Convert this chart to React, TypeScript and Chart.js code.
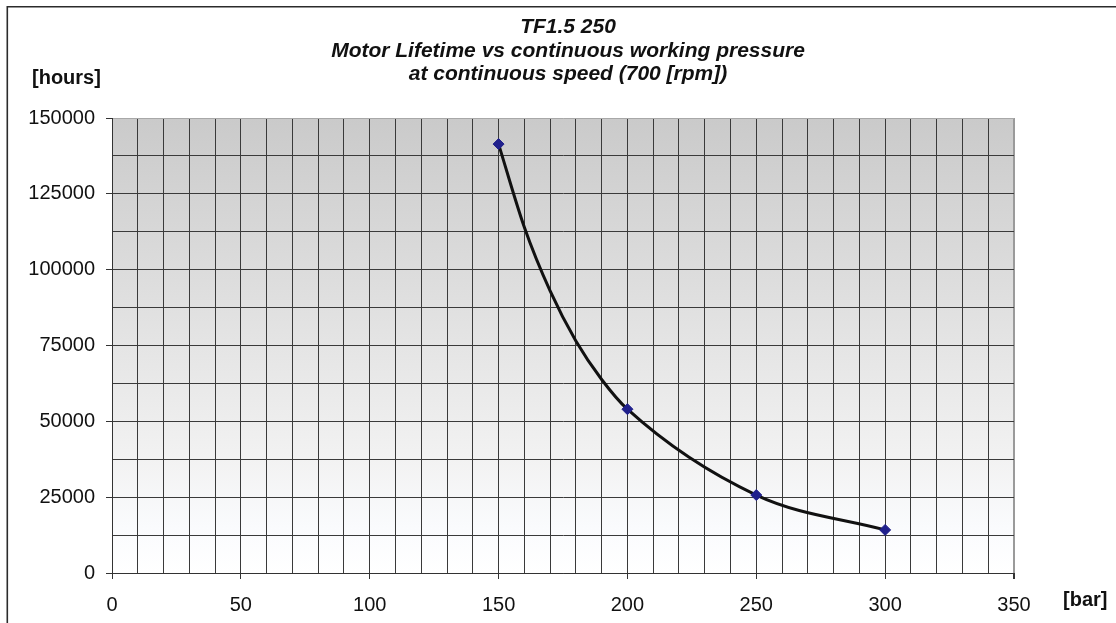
import React, { useEffect, useRef } from "react";
import { Chart, registerables } from "chart.js";

Chart.register(...registerables);

// Marked data points (pressure [bar] -> lifetime [hours])
const pressureMarks = [150, 200, 250, 300];
const lifetimeMarks = [141400, 54000, 25700, 14200];

// Curve points (crossings of the 10-bar grid lines)
const curvePressure = [150, 160, 170, 180, 190, 200, 250, 300];
const curveLifetime = [141400, 114000, 93000, 76500, 63800, 54000, 25700, 14200];

const titleLines = [
  "TF1.5 250",
  "Motor Lifetime vs continuous working pressure",
  "at continuous speed (700 [rpm])",
];
const yAxisTitle = "[hours]";
const xAxisTitle = "[bar]";

const FONT = "'Liberation Sans', Arial, sans-serif";

export default function App() {
  const canvasRef = useRef<HTMLCanvasElement | null>(null);

  useEffect(() => {
    const canvas = canvasRef.current;
    if (!canvas) return;

    const bgPlugin = {
      id: "bgGradient",
      beforeDraw(chart: any) {
        const { ctx, chartArea } = chart;
        ctx.save();
        ctx.fillStyle = "#ffffff";
        ctx.fillRect(0, 0, chart.width, chart.height);
        const g = ctx.createLinearGradient(0, chartArea.top, 0, chartArea.bottom);
        g.addColorStop(0, "#cacaca");
        g.addColorStop(0.45, "#e2e2e2");
        g.addColorStop(0.75, "#f2f2f2");
        g.addColorStop(0.9, "#fafbfd");
        g.addColorStop(1, "#ffffff");
        ctx.fillStyle = g;
        ctx.fillRect(
          chartArea.left,
          chartArea.top,
          chartArea.right - chartArea.left,
          chartArea.bottom - chartArea.top
        );
        ctx.restore();
      },
      afterDraw(chart: any) {
        const { ctx } = chart;
        ctx.save();
        // outer frame (top and left edges)
        ctx.strokeStyle = "#2b2b2b";
        ctx.lineWidth = 1.6;
        ctx.beginPath();
        ctx.moveTo(1116, 6.8);
        ctx.lineTo(7.3, 6.8);
        ctx.lineTo(7.3, 623);
        ctx.stroke();

        ctx.fillStyle = "#111111";
        ctx.textAlign = "center";
        ctx.textBaseline = "alphabetic";
        ctx.font = `italic bold 21px ${FONT}`;
        const baselines = [33, 57, 80];
        titleLines.forEach((t, i) => ctx.fillText(t, 568, baselines[i]));

        ctx.font = `bold 20px ${FONT}`;
        ctx.textAlign = "left";
        ctx.fillText(yAxisTitle, 32, 84);
        ctx.fillText(xAxisTitle, 1063, 606);
        ctx.restore();
      },
    };

    const chart = new Chart(canvas, {
      type: "scatter",
      data: {
        datasets: [
          {
            label: "points",
            data: pressureMarks.map((x, i) => ({ x, y: lifetimeMarks[i] })),
            pointStyle: "rectRot",
            pointRadius: 5.5,
            pointHoverRadius: 5.5,
            backgroundColor: "#20208c",
            borderColor: "#20208c",
            borderWidth: 1,
            showLine: false,
            order: 0,
          },
          {
            label: "curve",
            data: curvePressure.map((x, i) => ({ x, y: curveLifetime[i] })),
            showLine: true,
            borderColor: "#111111",
            borderWidth: 3,
            pointRadius: 0,
            pointHoverRadius: 0,
            cubicInterpolationMode: "monotone",
            fill: false,
            order: 1,
          },
        ],
      },
      options: {
        responsive: false,
        animation: false,
        events: [],
        layout: { padding: { top: 118, right: 102, left: 0, bottom: 0 } },
        plugins: {
          legend: { display: false },
          title: { display: false },
          tooltip: { enabled: false },
        },
        scales: {
          x: {
            type: "linear",
            min: 0,
            max: 350,
            afterFit(scale: any) {
              scale.height = 50;
            },
            border: { display: true, color: "#333333", width: 1 },
            grid: {
              color: (c: any) => (c.tick && c.tick.value === 350 ? "#9a9a9a" : "#3a3a3a"),
              lineWidth: (c: any) => (c.tick && c.tick.value === 350 ? 2 : 1),
              tickColor: (c: any) =>
                c.tick && c.tick.value % 50 === 0 ? "#333333" : "rgba(0,0,0,0)",
              tickLength: 6,
              drawTicks: true,
            },
            ticks: {
              stepSize: 10,
              autoSkip: false,
              maxRotation: 0,
              padding: 14,
              color: "#111111",
              font: { family: FONT, size: 20 },
              callback: (v: any) => (Number(v) % 50 === 0 ? String(v) : ""),
            },
          },
          y: {
            type: "linear",
            min: 0,
            max: 150000,
            afterFit(scale: any) {
              scale.width = 112;
            },
            border: { display: true, color: "#333333", width: 1 },
            grid: {
              color: (c: any) => (c.tick && c.tick.value === 150000 ? "#a8a8a8" : "#3a3a3a"),
              lineWidth: 1,
              tickColor: (c: any) =>
                c.tick && c.tick.value % 25000 === 0 ? "#333333" : "rgba(0,0,0,0)",
              tickLength: 6,
              drawTicks: true,
            },
            ticks: {
              stepSize: 12500,
              autoSkip: false,
              padding: 11,
              color: "#111111",
              font: { family: FONT, size: 20 },
              callback: (v: any) => (Number(v) % 25000 === 0 ? String(v) : ""),
            },
          },
        },
      },
      plugins: [bgPlugin],
    } as any);

    return () => chart.destroy();
  }, []);

  return (
    <div style={{ position: "fixed", left: 0, top: 0, width: 1116, height: 623 }}>
      <canvas ref={canvasRef} width={1116} height={623} style={{ display: "block" }} />
    </div>
  );
}
